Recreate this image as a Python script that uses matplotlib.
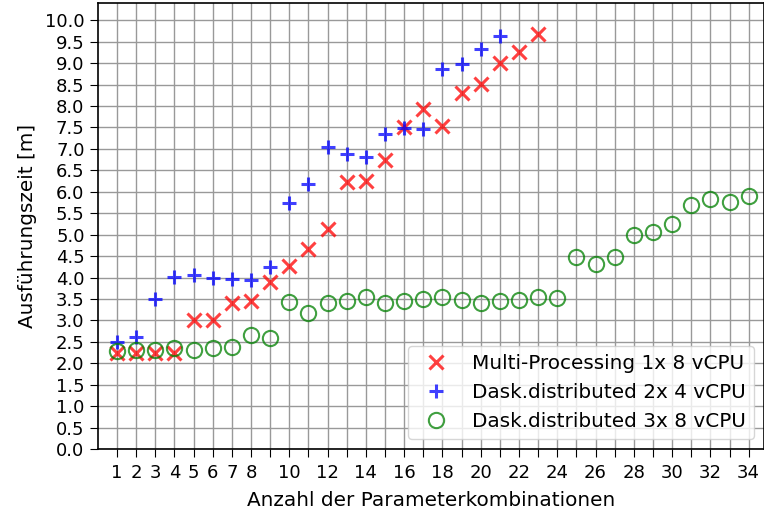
import numpy as np
import matplotlib.pyplot as plt

# Anzahl der Parameterkombinationen
x_mp = np.arange(1, 24)
x_d2 = np.arange(1, 22)
x_d3 = np.arange(1, 35)

# Ausführungszeit in Minuten
mp_1x8 = [2.25, 2.25, 2.25, 2.25, 3.0, 3.0, 3.4, 3.45, 3.89, 4.27, 4.67, 5.13,
          6.22, 6.25, 6.73, 7.5, 7.94, 7.54, 8.31, 8.51, 9.0, 9.25, 9.67]
dask_2x4 = [2.5, 2.62, 3.5, 4.02, 4.05, 3.98, 3.96, 3.94, 4.25, 5.73, 6.19, 7.05,
            6.89, 6.8, 7.34, 7.49, 7.46, 8.86, 8.97, 9.34, 9.63]
dask_3x8 = [2.28, 2.32, 2.32, 2.35, 2.32, 2.35, 2.37, 2.67, 2.6, 3.43, 3.18, 3.41,
            3.45, 3.55, 3.4, 3.45, 3.5, 3.55, 3.47, 3.4, 3.45, 3.47, 3.54, 3.53,
            4.47, 4.31, 4.48, 5.0, 5.06, 5.24, 5.7, 5.82, 5.76, 5.89]

labels = ["Multi-Processing 1x 8 vCPU", "Dask.distributed 2x 4 vCPU",
          "Dask.distributed 3x 8 vCPU"]
xticks = np.arange(1, 35)
xticklabels = [str(i) if (i <= 8 or i % 2 == 0) else "" for i in xticks]
yticks = np.arange(0, 10.01, 0.5)

fig = plt.figure(figsize=(7.64, 5.12), dpi=100)
ax = fig.add_axes([0.128, 0.123, 0.872, 0.871])

ax.plot(x_mp, mp_1x8, linestyle="none", marker="x", color="red", alpha=0.75,
        ms=10, mew=2.2, label=labels[0], zorder=3)
ax.plot(x_d2, dask_2x4, linestyle="none", marker="+", color="blue", alpha=0.75,
        ms=10, mew=2.2, label=labels[1], zorder=3)
ax.plot(x_d3, dask_3x8, linestyle="none", marker="o", mfc="none", mec="green",
        alpha=0.75, ms=11, mew=1.5, label=labels[2], zorder=3)

ax.set_xlim(0, 34.8)
ax.set_ylim(0, 10.4)
ax.set_xticks(xticks)
ax.set_xticklabels(xticklabels)
ax.set_yticks(yticks)
ax.set_yticklabels([f"{v:.1f}" for v in yticks])
ax.tick_params(labelsize=13, length=6)
ax.tick_params(axis="x", pad=5)
ax.grid(True, color="#999999", linewidth=1)
ax.set_axisbelow(True)
for s in ["top", "right", "left", "bottom"]:
    ax.spines[s].set_color("black")
    ax.spines[s].set_linewidth(1.2)

ax.set_xlabel("Anzahl der Parameterkombinationen", fontsize=14.4, labelpad=6)
ax.set_ylabel("Ausführungszeit [m]", fontsize=14.4, labelpad=6)
ax.legend(loc="lower right", fontsize=14.4)

fig.savefig("out.png", dpi=100)
